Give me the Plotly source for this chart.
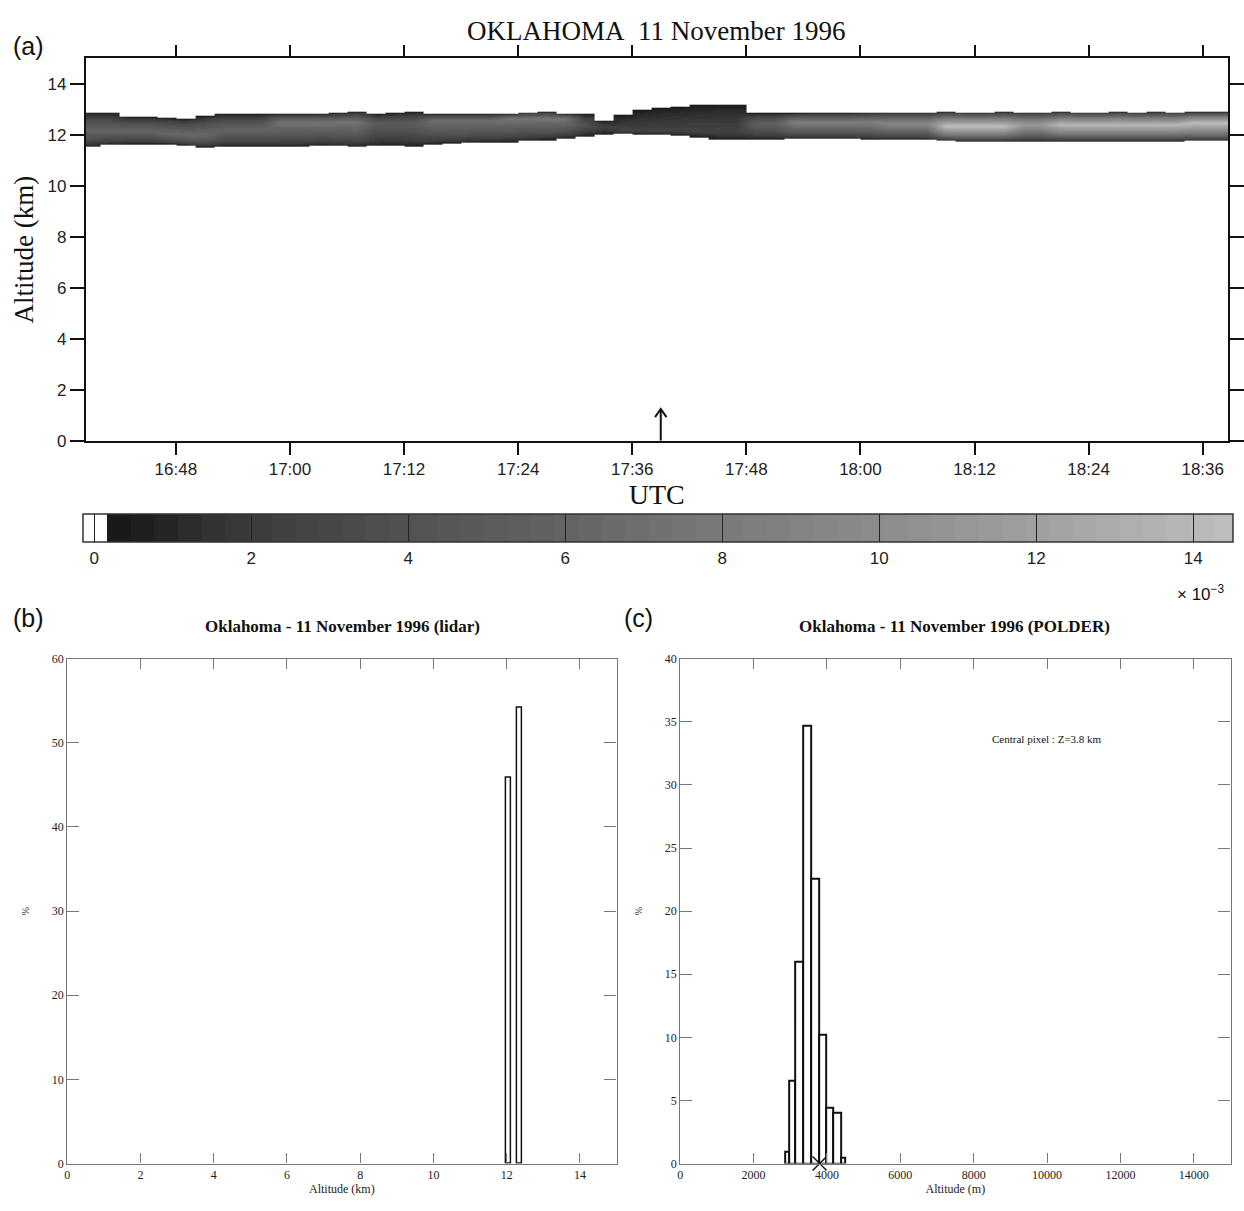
import numpy as np
import pandas as pd
import plotly.graph_objects as go

# ---------------------------------------------------------------------------
# (a) Lidar cross-section, Oklahoma, 11 November 1996
#     2-minute columns starting at 16:39 UTC
# ---------------------------------------------------------------------------
col_times = pd.date_range("1996-11-11 16:39", periods=61, freq="2min")

cloud_base_km = [
    11.55, 11.63, 11.65, 11.65, 11.65, 11.60, 11.52, 11.56, 11.56, 11.56,
    11.56, 11.56, 11.60, 11.58, 11.55, 11.58, 11.60, 11.55, 11.64, 11.67,
    11.70, 11.72, 11.73, 11.78, 11.80, 11.86, 11.94, 12.02, 12.05, 12.02,
    12.00, 11.98, 11.90, 11.82, 11.82, 11.82, 11.82, 11.85, 11.85, 11.85,
    11.85, 11.82, 11.82, 11.82, 11.82, 11.78, 11.76, 11.76, 11.76, 11.76,
    11.76, 11.76, 11.76, 11.76, 11.76, 11.76, 11.76, 11.76, 11.78, 11.78,
    11.78,
]
cloud_top_km = [
    12.87, 12.87, 12.72, 12.72, 12.68, 12.63, 12.75, 12.83, 12.83, 12.83,
    12.83, 12.83, 12.83, 12.86, 12.90, 12.83, 12.86, 12.90, 12.83, 12.83,
    12.83, 12.83, 12.83, 12.88, 12.90, 12.83, 12.83, 12.56, 12.80, 12.97,
    13.05, 13.10, 13.18, 13.20, 13.20, 12.85, 12.85, 12.85, 12.86, 12.86,
    12.86, 12.88, 12.88, 12.88, 12.88, 12.90, 12.88, 12.88, 12.90, 12.88,
    12.88, 12.90, 12.88, 12.88, 12.90, 12.88, 12.90, 12.88, 12.90, 12.90,
    12.90,
]
# altitude of the brightest layer inside the cloud in each column
core_alt_km = [
    12.15, 12.15, 12.15, 12.15, 12.05, 12.00, 12.00, 12.20, 12.20, 12.20,
    12.50, 12.50, 12.50, 12.50, 12.50, 12.45, 12.45, 12.45, 12.55, 12.55,
    12.55, 12.55, 12.65, 12.65, 12.65, 12.65, 12.40, 12.30, 12.15, 12.15,
    12.15, 12.15, 12.15, 12.15, 12.15, 12.45, 12.45, 12.50, 12.50, 12.50,
    12.50, 12.50, 12.45, 12.45, 12.45, 12.34, 12.34, 12.34, 12.34, 12.40,
    12.40, 12.40, 12.40, 12.40, 12.40, 12.40, 12.40, 12.40, 12.47, 12.47,
    12.47,
]
# peak backscatter in each column (x 1e-3)
core_value = [
    6.0, 6.0, 6.0, 6.0, 6.5, 6.5, 6.5, 6.0, 6.0, 6.0,
    7.5, 7.5, 7.5, 7.5, 7.5, 5.0, 5.0, 5.0, 7.0, 7.0,
    7.0, 7.0, 7.5, 7.5, 7.5, 7.5, 4.0, 2.5, 2.5, 2.5,
    2.5, 2.5, 2.5, 2.5, 2.5, 5.5, 5.5, 8.5, 8.5, 8.5,
    8.5, 8.5, 9.5, 9.5, 9.5, 14.5, 14.5, 14.5, 14.5, 11.5,
    11.5, 14.0, 14.0, 14.0, 14.0, 14.0, 14.0, 14.0, 14.5, 14.5,
    14.5,
]
EDGE_VALUE = 0.3          # backscatter at the cloud boundaries (x 1e-3)

alt_grid = np.round(np.arange(11.41, 13.30, 0.02), 3)
x_range = ["1996-11-11 16:38:30", "1996-11-11 18:38:40"]
obs_time = pd.Timestamp("1996-11-11 17:39")     # satellite overpass
arrow_tip_km = 1.25

cbar_ticks = [0, 2, 4, 6, 8, 10, 12, 14]
cbar_min, cbar_max = -0.15, 14.5

# ---------------------------------------------------------------------------
# (b) lidar cloud-altitude histogram
# ---------------------------------------------------------------------------
lidar_alt_km = [12.05, 12.35]
lidar_pct = [45.8, 54.2]

# ---------------------------------------------------------------------------
# (c) POLDER cloud-altitude histogram (bin edges in metres)
# ---------------------------------------------------------------------------
polder_bin_edges_m = [2850, 2965, 3140, 3360, 3570, 3785, 3990, 4175, 4385, 4490]
polder_pct = [0.9, 6.6, 16.0, 34.7, 22.6, 10.2, 4.4, 4.0, 0.5]
central_pixel_m = 3800

# ---------------------------------------------------------------------------
W, H = 1244, 1211
SERIF = "Liberation Serif"
SANS = "Liberation Sans"


def px(x):
    return x / W


def py(y):
    return 1 - y / H


# backscatter field for the lidar cross-section
z = np.full((len(alt_grid), len(col_times)), np.nan)
for j in range(len(col_times)):
    b, t, c, p = cloud_base_km[j], cloud_top_km[j], core_alt_km[j], core_value[j]
    inside = (alt_grid >= b) & (alt_grid <= t)
    frac = np.where(alt_grid >= c,
                    (alt_grid - c) / max(t - c, 1e-3),
                    (c - alt_grid) / max(c - b, 1e-3))
    prof = EDGE_VALUE + (p - EDGE_VALUE) * np.clip(1 - frac, 0, 1) ** 0.7
    z[inside, j] = prof[inside]

# stepped grey scale: white below zero, then dark to light grey
anchor_v = [0.16, 2, 4, 6, 8, 10, 12, 14.5]
anchor_g = [22, 60, 82, 100, 122, 140, 160, 190]
span = cbar_max - cbar_min
cscale = [[0.0, "rgb(255,255,255)"], [(0.16 - cbar_min) / span - 1e-4, "rgb(255,255,255)"]]
edges = np.arange(0.16, cbar_max + 1e-9, 0.3)
edges = np.append(edges, cbar_max) if edges[-1] < cbar_max else edges
for lo, hi in zip(edges[:-1], edges[1:]):
    g = int(round(np.interp((lo + hi) / 2, anchor_v, anchor_g)))
    col = f"rgb({g},{g},{g})"
    cscale.append([(lo - cbar_min) / span, col])
    cscale.append([min((hi - cbar_min) / span - 1e-4, 1.0), col])
cscale[-1][0] = 1.0

fig = go.Figure()

fig.add_trace(go.Heatmap(
    x=col_times, y=alt_grid, z=z, zsmooth="best",
    colorscale=cscale, zmin=cbar_min, zmax=cbar_max,
    hoverinfo="skip", xaxis="x", yaxis="y",
    colorbar=dict(
        orientation="h", xref="paper", yref="paper",
        x=px(80), xanchor="left", y=py(514), yanchor="top",
        len=1150, lenmode="pixels", thickness=28, thicknessmode="pixels",
        xpad=0, ypad=0,
        tickvals=cbar_ticks, ticktext=[str(v) for v in cbar_ticks],
        ticks="inside", ticklen=28, tickwidth=1, tickcolor="#222",
        outlinecolor="#333", outlinewidth=1.5,
        tickfont=dict(family=SANS, size=17, color="#222"),
    ),
))

# overpass arrow: shaft from the time axis up to the tip, plus an open head
head_dt = pd.Timedelta(seconds=36)
head_dz = 0.32
fig.add_trace(go.Scatter(
    x=[obs_time, obs_time, None, obs_time - head_dt, obs_time, obs_time + head_dt],
    y=[0, arrow_tip_km, None, arrow_tip_km - head_dz, arrow_tip_km, arrow_tip_km - head_dz],
    mode="lines", line=dict(color="#111", width=2),
    xaxis="x", yaxis="y", hoverinfo="skip", cliponaxis=False,
))

# (b) lidar histogram
fig.add_trace(go.Bar(
    x=lidar_alt_km, y=lidar_pct, width=0.15,
    marker=dict(color="white", line=dict(color="#111", width=1.5)),
    xaxis="x2", yaxis="y2", hoverinfo="skip",
))

# (c) POLDER histogram
edges_m = np.array(polder_bin_edges_m, dtype=float)
fig.add_trace(go.Bar(
    x=(edges_m[:-1] + edges_m[1:]) / 2, y=polder_pct, width=np.diff(edges_m),
    marker=dict(color="white", line=dict(color="#111", width=2)),
    xaxis="x3", yaxis="y3", hoverinfo="skip",
))
fig.add_trace(go.Scatter(
    x=[central_pixel_m], y=[0], mode="markers",
    marker=dict(symbol="x-thin", size=14, line=dict(color="#111", width=1.5)),
    xaxis="x3", yaxis="y3", cliponaxis=False, hoverinfo="skip",
))

axis_a = dict(showline=True, linecolor="#111", linewidth=1.5, mirror="ticks",
              ticks="outside", tickcolor="#111", tickwidth=1.5,
              showgrid=False, zeroline=False,
              tickfont=dict(family=SANS, size=17, color="#222"))
axis_h = dict(showline=True, linecolor="#777", linewidth=1.2, mirror="ticks",
              ticks="inside", tickcolor="#777", tickwidth=1,
              showgrid=False, zeroline=False, tickformat="d",
              tickfont=dict(family=SERIF, size=12, color="#222"))

fig.update_layout(
    width=W, height=H, margin=dict(l=0, r=0, t=0, b=0),
    paper_bgcolor="white", plot_bgcolor="white", showlegend=False,
    bargap=0,
    xaxis=dict(axis_a, domain=[px(83), px(1232)], anchor="y", type="date",
               range=x_range, tick0="1996-11-11 16:48", dtick=720000,
               tickformat="%H:%M", ticklen=12,
               title=dict(text="UTC", font=dict(family=SERIF, size=28, color="#111"),
                          standoff=4)),
    yaxis=dict(axis_a, domain=[py(440), py(52)], anchor="x", range=[0, 15],
               dtick=2, ticklen=14,
               title=dict(text="Altitude (km)", font=dict(family=SERIF, size=27, color="#111"),
                          standoff=6)),
    xaxis2=dict(axis_h, domain=[px(64.5), px(617)], anchor="y2", range=[0, 15],
                dtick=2, ticklen=10,
                title=dict(text="Altitude (km)", font=dict(family=SERIF, size=12, color="#222"),
                           standoff=2)),
    yaxis2=dict(axis_h, domain=[py(1173), py(661)], anchor="x2", range=[0, 60],
                dtick=10, ticklen=12,
                title=dict(text="%", font=dict(family=SERIF, size=10, color="#222"),
                           standoff=20)),
    xaxis3=dict(axis_h, domain=[px(681), px(1234.5)], anchor="y3", range=[0, 15000],
                dtick=2000, ticklen=10,
                title=dict(text="Altitude (m)", font=dict(family=SERIF, size=12, color="#222"),
                           standoff=2)),
    yaxis3=dict(axis_h, domain=[py(1173), py(661)], anchor="x3", range=[0, 40],
                dtick=5, ticklen=12,
                title=dict(text="%", font=dict(family=SERIF, size=10, color="#222"),
                           standoff=20)),
)

paper_text = [
    ("OKLAHOMA\u00a0\u00a011 November 1996", 657, 24, SERIF, 27, "center"),
    ("(a)", 8, 40, SANS, 25, "left"),
    ("(b)", 8, 620, SANS, 25, "left"),
    ("(c)", 622, 620, SANS, 25, "left"),
    ("<b>Oklahoma - 11 November 1996 (lidar)</b>", 341, 628, SERIF, 17, "center"),
    ("<b>Oklahoma - 11 November 1996 (POLDER)</b>", 957, 628, SERIF, 17, "center"),
    ("\u00d7 10<sup>\u22123</sup>", 1205, 594, SANS, 17, "center"),
]
for text, x, y, fam, size, anchor in paper_text:
    fig.add_annotation(x=px(x), y=py(y), xref="paper", yref="paper", text=text,
                       showarrow=False, xanchor=anchor, yanchor="middle",
                       font=dict(family=fam, size=size, color="#111"))

fig.add_annotation(x=10000, y=33.6, xref="x3", yref="y3",
                   text=f"Central pixel : Z={central_pixel_m / 1000:.1f} km",
                   showarrow=False, font=dict(family=SERIF, size=11, color="#111"))

fig.write_html("out.html")
